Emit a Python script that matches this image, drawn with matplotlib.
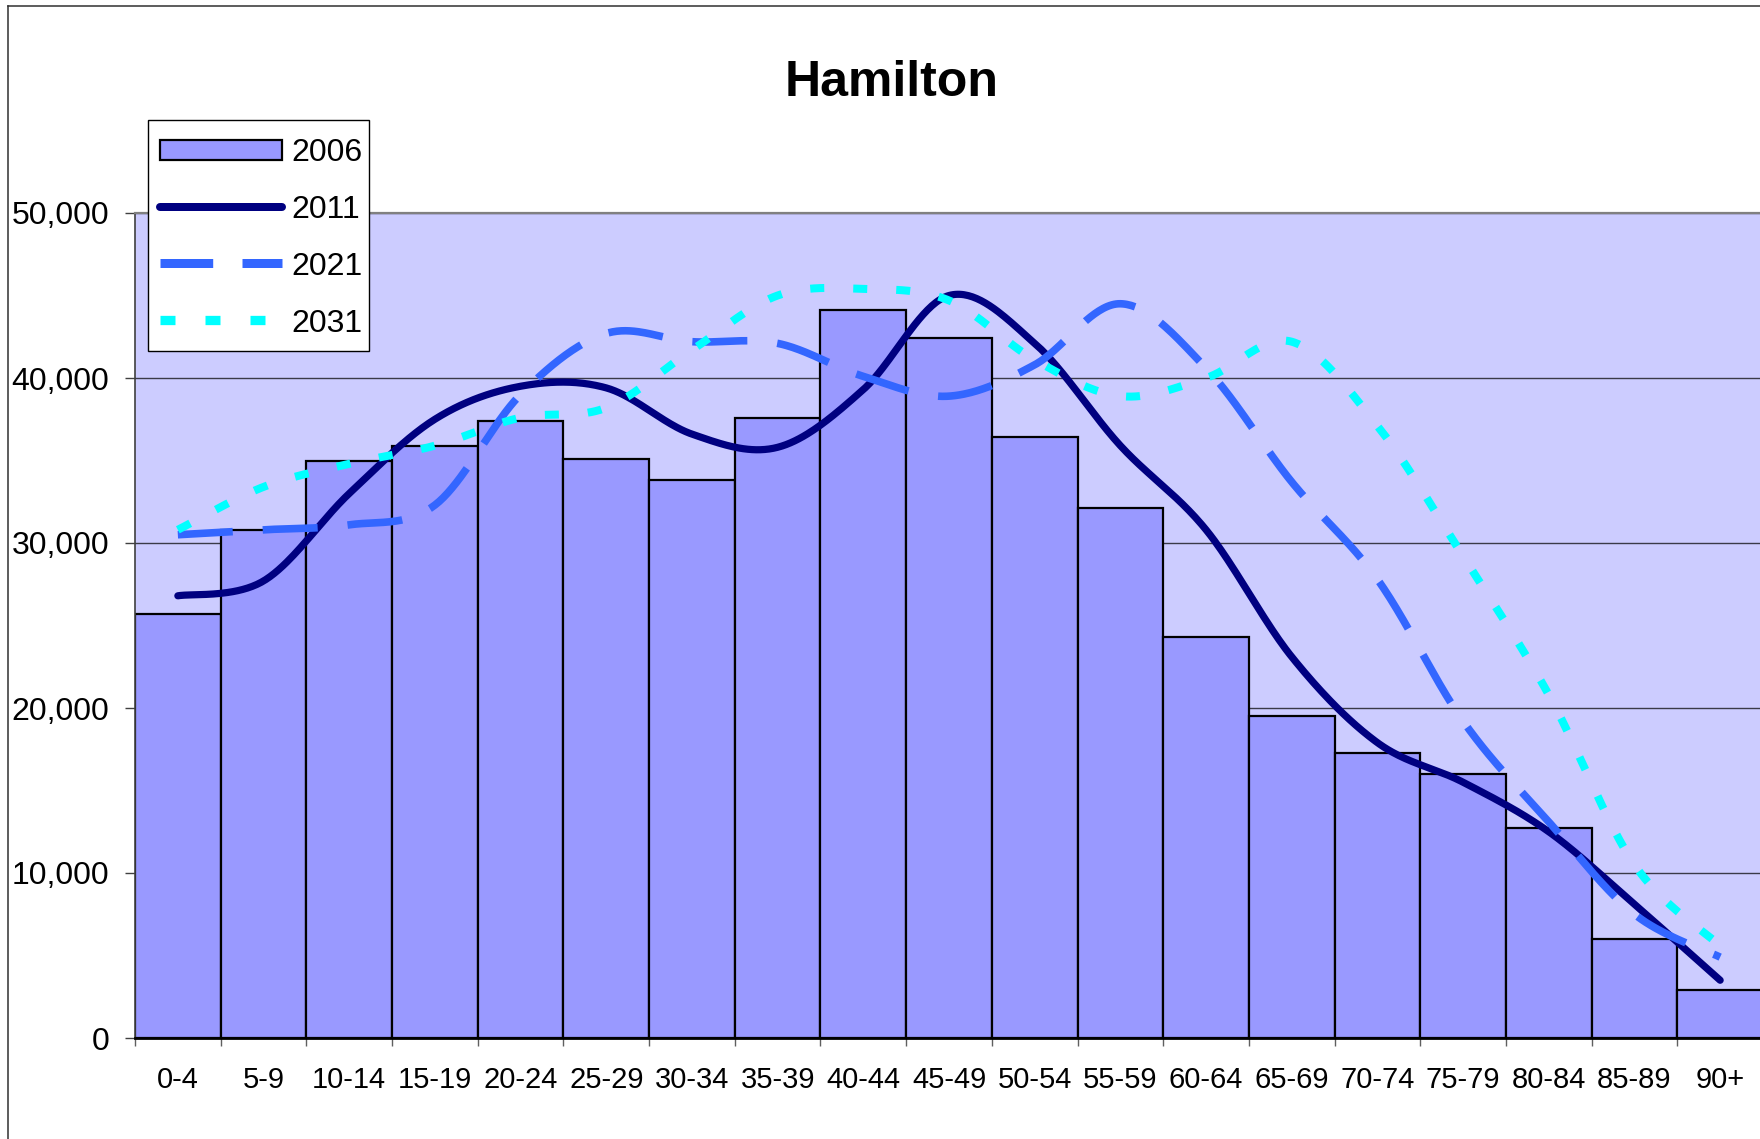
import numpy as np
import matplotlib
matplotlib.use('Agg')
import matplotlib.pyplot as plt
from matplotlib import font_manager
from matplotlib.lines import Line2D
from matplotlib.patches import Patch, Rectangle
from matplotlib.legend_handler import HandlerPatch
from matplotlib.ticker import FuncFormatter, FixedLocator

# ---------------- data ----------------
categories = ['0-4', '5-9', '10-14', '15-19', '20-24', '25-29', '30-34', '35-39',
              '40-44', '45-49', '50-54', '55-59', '60-64', '65-69', '70-74',
              '75-79', '80-84', '85-89', '90+']
pop_2006 = [25700, 30800, 35000, 35900, 37400, 35100, 33800, 37600, 44100, 42400,
            36400, 32100, 24300, 19500, 17300, 16000, 12700, 6000, 2900]
pop_2011 = [26800, 27700, 33000, 37500, 39500, 39400, 36600, 35800, 39300, 45000,
            42100, 35900, 30800, 23100, 17900, 15500, 12500, 8100, 3500]
pop_2021 = [30500, 30800, 31100, 32300, 39000, 42700, 42200, 42100, 40100, 38900,
            40800, 44500, 40600, 33700, 27800, 19200, 13100, 7500, 4900]
pop_2031 = [30800, 33400, 34800, 35900, 37600, 38200, 41700, 45000, 45400, 44700,
            41100, 38900, 40000, 42200, 37100, 29200, 20800, 10500, 5600]
series_names = ['2006', '2011', '2021', '2031']
y_ticks = [0, 10000, 20000, 30000, 40000, 50000]
title = 'Hamilton'

# ---------------- fonts ----------------
names = {f.name for f in font_manager.fontManager.ttflist}
narrow = 'Liberation Sans Narrow' in names
base_font = 'Liberation Sans' if 'Liberation Sans' in names else 'DejaVu Sans'
plt.rcParams['font.family'] = [base_font, 'DejaVu Sans']


def smooth(yvals, n=40):
    """Excel-like smoothed line (Catmull-Rom Bezier) through category points."""
    y = np.asarray(yvals, float)
    x = np.arange(len(y), dtype=float)
    px = np.concatenate([[x[0]], x, [x[-1]]])
    py = np.concatenate([[y[0]], y, [y[-1]]])
    xs, ys = [], []
    t = np.linspace(0, 1, n, endpoint=False)
    for i in range(len(y) - 1):
        p0x, p0y = px[i + 1], py[i + 1]
        p3x, p3y = px[i + 2], py[i + 2]
        b1x = p0x + (px[i + 2] - px[i]) / 6
        b1y = p0y + (py[i + 2] - py[i]) / 6
        b2x = p3x - (px[i + 3] - px[i + 1]) / 6
        b2y = p3y - (py[i + 3] - py[i + 1]) / 6
        a = (1 - t) ** 3
        b = 3 * (1 - t) ** 2 * t
        c = 3 * (1 - t) * t ** 2
        d = t ** 3
        xs.append(a * p0x + b * b1x + c * b2x + d * p3x)
        ys.append(a * p0y + b * b1y + c * b2y + d * p3y)
    xs.append([x[-1]])
    ys.append([y[-1]])
    return np.concatenate(xs), np.concatenate(ys)


def px2pt(p):
    return p * 72 / 100


W, H = 1760, 1139
fig = plt.figure(figsize=(W / 100, H / 100), dpi=100)
fig.patch.set_facecolor('white')

left, right, bottom_px, top_px = 135, 1763, 1038, 213
ax = fig.add_axes([left / W, (H - bottom_px) / H, (right - left) / W, (bottom_px - top_px) / H])
ax.set_facecolor('#CCCCFF')

x = np.arange(len(categories))
ax.bar(x, pop_2006, width=1.0, color='#9999FF', edgecolor='black', linewidth=1.6,
       zorder=2, label=series_names[0])

# line styles (widths in px converted to pt)
w11, w21, w31 = px2pt(7.2), px2pt(7.6), px2pt(8.0)
dash21 = (55 / 7.6, 30 / 7.6)
dash31 = (14 / 8.0, 29 / 8.0)

sx, sy = smooth(pop_2011)
ax.plot(sx, sy, color='#000080', lw=w11, solid_capstyle='round', zorder=3)
sx, sy = smooth(pop_2021)
ax.plot(sx, sy, color='#3366FF', lw=w21, dashes=dash21, dash_capstyle='butt', zorder=4)
sx, sy = smooth(pop_2031)
ax.plot(sx, sy, color='#00FFFF', lw=w31, dashes=dash31, dash_capstyle='butt', zorder=5)

ax.set_xlim(-0.5, len(categories) - 0.5)
ax.set_ylim(0, 50000)

# grid
ax.set_axisbelow(True)
ax.yaxis.grid(True, color='#3a3a48', linewidth=1.0, zorder=0)
ax.xaxis.grid(False)

# y axis
ax.set_yticks(y_ticks)
ax.yaxis.set_major_formatter(FuncFormatter(lambda v, p: f'{int(v):,}'))
ax.tick_params(axis='y', which='major', direction='out', length=7.2, width=1.0,
               color='#404040', pad=11.5, labelsize=23, labelcolor='black')

# x axis: boundary ticks, labels at centres
ax.xaxis.set_major_locator(FixedLocator(np.arange(len(categories) + 1) - 0.5))
ax.xaxis.set_minor_locator(FixedLocator(x))
ax.set_xticklabels([], minor=False)
ax.set_xticklabels(categories, minor=True)
ax.tick_params(axis='x', which='major', direction='out', length=5.8, width=1.0,
               color='#606060')
xfam = ['Liberation Sans Narrow', 'DejaVu Sans'] if narrow else [base_font, 'DejaVu Sans']
xsize = 24 if narrow else 21
ax.tick_params(axis='x', which='minor', length=0, pad=20)
for lab in ax.get_xticklabels(minor=True):
    lab.set_family(xfam)
    lab.set_fontsize(xsize)
    lab.set_color('black')

# spines
ax.spines['top'].set_color('#808080')
ax.spines['top'].set_linewidth(1.6)
ax.spines['right'].set_visible(False)
ax.spines['left'].set_color('#404040')
ax.spines['left'].set_linewidth(1.2)
ax.spines['bottom'].set_color('black')
ax.spines['bottom'].set_linewidth(2.0)
for sp in ax.spines.values():
    sp.set_zorder(6)

# title
tfam = ['Liberation Sans Narrow', 'DejaVu Sans'] if narrow else [base_font, 'DejaVu Sans']
tsize = 40 if narrow else 36
fig.text(892 / W, 1 - 96 / H, title, ha='center', va='baseline',
         fontsize=tsize, fontweight='bold', family=tfam)

# legend box (drawn explicitly), legend content without frame
fig.add_artist(Rectangle((147.5 / W, 1 - 351 / H), (368.5 - 147.5) / W, (351 - 120) / H,
                         transform=fig.transFigure, facecolor='white', edgecolor='black',
                         lw=1.0, zorder=4))


def small_patch(legend, orig_handle, xdescent, ydescent, width, height, fontsize):
    h = 20.0 * 72 / 100
    return Rectangle((-xdescent, -ydescent + (height - h) / 2), width, h)


handles = [
    Patch(facecolor='#9999FF', edgecolor='black', linewidth=1.6),
    Line2D([], [], color='#000080', lw=px2pt(8.0), solid_capstyle='round'),
    Line2D([], [], color='#3366FF', lw=px2pt(9.0), dashes=(52.7 / 9.0, 29.3 / 9.0),
           dash_capstyle='butt'),
    Line2D([], [], color='#00FFFF', lw=px2pt(9.3), dashes=(15 / 9.3, 30 / 9.3),
           dash_capstyle='butt'),
]
leg = fig.legend(handles, series_names, loc='upper left',
                 bbox_to_anchor=(159.5 / W, 1 - 138 / H), bbox_transform=fig.transFigure,
                 fontsize=23, frameon=False,
                 handlelength=3.84, handleheight=0.7, handletextpad=0.3,
                 borderpad=0, labelspacing=0.84, borderaxespad=0,
                 handler_map={Patch: HandlerPatch(patch_func=small_patch)})
leg.set_zorder(5)

# chart area border (left and top visible)
fig.add_artist(Line2D([7.5 / W, 7.5 / W], [0, 1 - 6.4 / H], transform=fig.transFigure,
                      color='#303030', lw=1.1))
fig.add_artist(Line2D([7.5 / W, 1], [1 - 6.4 / H, 1 - 6.4 / H], transform=fig.transFigure,
                      color='#303030', lw=1.1))

fig.savefig('out.png', dpi=100, facecolor='white')
